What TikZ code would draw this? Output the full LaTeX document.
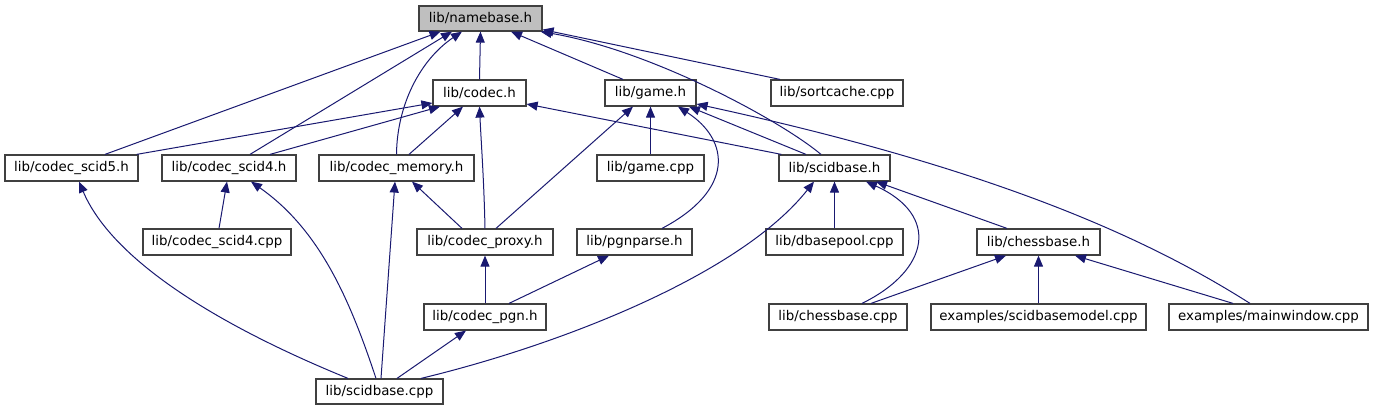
\documentclass[tikz,border=0pt]{standalone}
\usepackage{fontspec}
\setmainfont{DejaVu Sans}
\usetikzlibrary{arrows.meta}
\definecolor{edgeblue}{HTML}{191970}
\definecolor{boxline}{HTML}{404040}
\definecolor{rootfill}{HTML}{BFBFBF}
\tikzset{
  filebox/.style={draw=boxline, line width=1.2pt, fill=white, inner sep=0pt,
    minimum height=26pt, font=\fontsize{13.4}{16}\selectfont},
  rootbox/.style={filebox, fill=rootfill, minimum height=25pt},
  dep/.style={draw=edgeblue, line width=1pt, -{Triangle[length=11pt,width=9pt]}}
}
\begin{document}
\begin{tikzpicture}[x=1pt,y=-1pt]
\useasboundingbox (0,0) rectangle (1374,411);
% nodes
\node[rootbox, minimum width=123pt] (nb) at (480.5,18.5) {lib/namebase.h};
\node[filebox, minimum width=93pt] (codec) at (479.5,93) {lib/codec.h};
\node[filebox, minimum width=91pt] (game) at (650.5,93) {lib/game.h};
\node[filebox, minimum width=132pt] (sortcache) at (837,93) {lib/sortcache.cpp};
\node[filebox, minimum width=133pt] (scid5) at (71.5,168) {lib/codec\_scid5.h};
\node[filebox, minimum width=134pt] (scid4) at (229,168) {lib/codec\_scid4.h};
\node[filebox, minimum width=155pt] (memory) at (396.5,168) {lib/codec\_memory.h};
\node[filebox, minimum width=107pt] (gamecpp) at (650.5,168) {lib/game.cpp};
\node[filebox, minimum width=111pt] (sbh) at (834.5,168) {lib/scidbase.h};
\node[filebox, minimum width=148pt] (scid4cpp) at (217,242) {lib/codec\_scid4.cpp};
\node[filebox, minimum width=136pt] (proxy) at (485,242) {lib/codec\_proxy.h};
\node[filebox, minimum width=115pt] (pgnparse) at (634.5,242) {lib/pgnparse.h};
\node[filebox, minimum width=137pt] (dbasepool) at (834.5,242) {lib/dbasepool.cpp};
\node[filebox, minimum width=123pt] (cbh) at (1038.5,242) {lib/chessbase.h};
\node[filebox, minimum width=122pt] (pgn) at (485,317) {lib/codec\_pgn.h};
\node[filebox, minimum width=138pt] (cbcpp) at (838,317) {lib/chessbase.cpp};
\node[filebox, minimum width=215pt] (model) at (1038.5,317) {examples/scidbasemodel.cpp};
\node[filebox, minimum width=199pt] (mainwin) at (1268.5,317) {examples/mainwindow.cpp};
\node[filebox, minimum width=127pt, minimum height=25pt] (sbcpp) at (379.5,391.5) {lib/scidbase.cpp};
% edges (child -> parent)
\draw[dep] ([xshift=33.5pt]scid5.north) -- ([xshift=-40pt]nb.south);
\draw[dep] ([xshift=21pt]scid4.north) -- ([xshift=-28.5pt]nb.south);
\draw[dep] (memory.north) .. controls (397,105) and (420,60) .. ([xshift=-18.5pt]nb.south);
\draw[dep] (codec.north) -- (nb.south);
\draw[dep] ([xshift=-27.5pt]game.north) -- ([xshift=30.5pt]nb.south);
\draw[dep] ([xshift=-13.5pt]sbh.north) .. controls (780,120) and (650,50) .. ([xshift=-2pt]nb.south east);
\draw[dep] ([xshift=-57pt]sortcache.north) -- ([yshift=2pt]nb.south east);
\draw[dep] ([xshift=-2pt]scid5.north east) -- ([yshift=-10pt]codec.west);
\draw[dep] ([xshift=41pt]scid4.north) -- ([xshift=-39.5pt]codec.south);
\draw[dep] ([xshift=12.5pt]memory.north) -- ([xshift=-16.5pt]codec.south);
\draw[dep] (proxy.north) .. controls (484,180) and (481,140) .. (codec.south);
\draw[dep] ([xshift=3pt]sbh.north west) -- ([yshift=-11pt]codec.east);
\draw[dep] ([xshift=11pt]proxy.north) -- ([xshift=-17.5pt]game.south);
\draw[dep] (gamecpp.north) -- (game.south);
\draw[dep] ([xshift=27.5pt]pgnparse.north) .. controls (735,190) and (730,140) .. ([xshift=27.5pt]game.south);
\draw[dep] ([xshift=-28.5pt]sbh.north) -- ([xshift=38.5pt]game.south);
\draw[dep] ([xshift=-18.5pt]mainwin.north) .. controls (1150,240) and (1000,170) .. ([yshift=-11pt]game.east);
\draw[dep] ([xshift=2pt]scid4cpp.north) -- ([xshift=-2pt]scid4.south);
\draw[dep] ([xshift=-31.5pt]sbcpp.north) .. controls (205,320) and (110,255) .. ([xshift=7.5pt]scid5.south);
\draw[dep] ([xshift=-3.5pt]sbcpp.north) .. controls (350,300) and (320,230) .. ([xshift=22pt]scid4.south);
\draw[dep] ([xshift=1.5pt]sbcpp.north) -- ([xshift=-1.5pt]memory.south);
\draw[dep] ([xshift=-23pt]proxy.north) -- ([xshift=15.5pt]memory.south);
\draw[dep] (pgn.north) -- (proxy.south);
\draw[dep] ([xshift=24pt]pgn.north) -- ([xshift=-25.5pt]pgnparse.south);
\draw[dep] ([xshift=17.5pt]sbcpp.north) -- ([xshift=-19pt]pgn.south);
\draw[dep] ([xshift=41.5pt]sbcpp.north) .. controls (560,345) and (740,275) .. ([xshift=-20.5pt]sbh.south);
\draw[dep] (dbasepool.north) -- (sbh.south);
\draw[dep] ([xshift=24pt]cbcpp.north) .. controls (930,270) and (940,215) .. ([xshift=31.5pt]sbh.south);
\draw[dep] ([xshift=-31.5pt]cbh.north) -- ([xshift=41.5pt]sbh.south);
\draw[dep] ([xshift=33pt]cbcpp.north) -- ([xshift=-32.5pt]cbh.south);
\draw[dep] (model.north) -- (cbh.south);
\draw[dep] ([xshift=-35.5pt]mainwin.north) -- ([xshift=36.5pt]cbh.south);
\end{tikzpicture}
\end{document}
